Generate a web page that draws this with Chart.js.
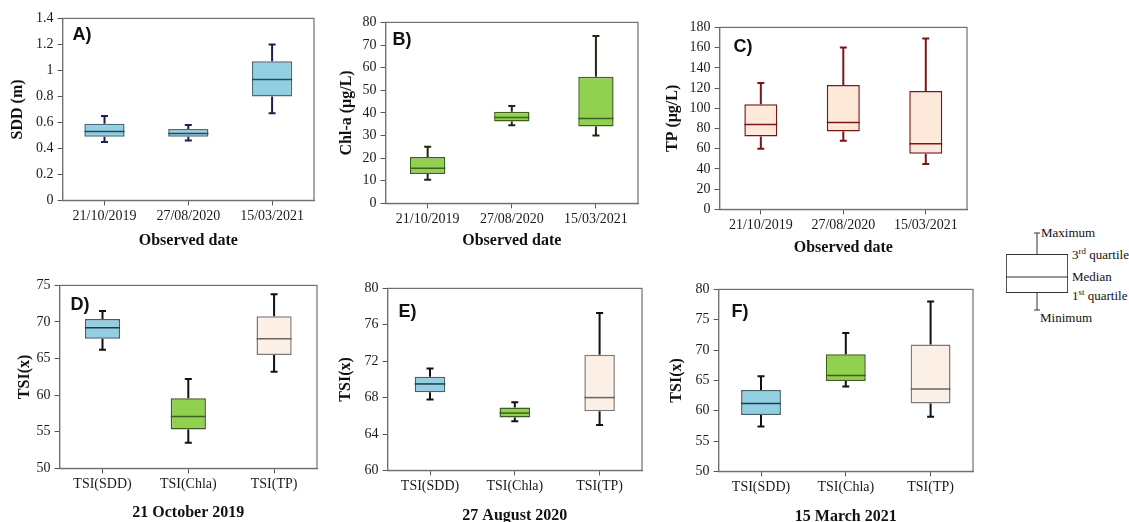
<!DOCTYPE html>
<html>
<head>
<meta charset="utf-8">
<script src="https://cdn.jsdelivr.net/npm/chart.js@4.4.1/dist/chart.umd.min.js"></script>
<style>
    body { margin: 0; background: #fff; width: 1129px; height: 522px; position: relative; overflow: hidden; font-family: 'Liberation Serif', serif; }
    canvas { position: absolute; }
    .lg { position: absolute; font-size: 13px; color: #111; white-space: nowrap; line-height: 14px; }
    .lg sup { font-size: 9px; line-height: 0; }
</style>
</head>
<body>
<div class="lg" style="left:1041px;top:226px;">Maximum</div>
<div class="lg" style="left:1072px;top:248px;">3<sup>rd</sup> quartile</div>
<div class="lg" style="left:1072px;top:270px;">Median</div>
<div class="lg" style="left:1072px;top:289px;">1<sup>st</sup> quartile</div>
<div class="lg" style="left:1040px;top:311px;">Minimum</div>
<script>
const dates = ['21/10/2019', '27/08/2020', '15/03/2021'];
const tsiNames = ['TSI(SDD)', 'TSI(Chla)', 'TSI(TP)'];

// each box: [min, q1, median, q3, max]
const sddStats = [[0.45, 0.49, 0.53, 0.59, 0.65], [0.46, 0.49, 0.515, 0.55, 0.58], [0.67, 0.80, 0.93, 1.07, 1.20]];
const chlaStats = [[10.5, 13, 15.5, 20.5, 25], [34.5, 36.2, 38, 40.5, 43], [30, 34, 37.5, 56, 74]];
const tpStats = [[60, 72, 84, 104, 125], [68, 77, 86, 123, 160], [45, 55, 65, 117, 169]];
const tsiOct2019 = [[66.2, 67.7, 69.2, 70.4, 71.5], [53.5, 55.3, 57.1, 59.6, 62.2], [63.2, 65.5, 67.7, 70.8, 73.8]];
const tsiAug2020 = [[67.8, 68.6, 69.5, 70.3, 71.2], [65.4, 65.8, 66.3, 66.9, 67.5], [65, 66.5, 68, 72.7, 77.3]];
const tsiMar2021 = [[57.4, 59.3, 61.2, 63.4, 65.7], [64, 64.9, 65.8, 69.3, 72.8], [59, 61.2, 63.6, 70.9, 78]];
const legendStats = [[10, 27, 43, 66, 87]];

const sddTicks = [0, 0.2, 0.4, 0.6, 0.8, 1, 1.2, 1.4];
const chlaTicks = [0, 10, 20, 30, 40, 50, 60, 70, 80];
const tpTicks = [0, 20, 40, 60, 80, 100, 120, 140, 160, 180];
const tsiTicksD = [50, 55, 60, 65, 70, 75];
const tsiTicksE = [60, 64, 68, 72, 76, 80];
const tsiTicksF = [50, 55, 60, 65, 70, 75, 80];

const blue = '#93cfe2', green = '#92d050', peach = '#fde9d9', peachPale = '#fcefe6';

// whiskers, caps and median lines on top of the floating bars
const boxPlugin = {
    id: 'boxExtras',
    afterDatasetsDraw(chart, args, opts) {
        const ctx = chart.ctx;
        const y = chart.scales.y;
        chart.getDatasetMeta(0).data.forEach((bar, i) => {
            const s = opts.stats[i];
            const x = bar.x, hw = bar.width / 2, cap = opts.cap / 2;
            ctx.save();
            ctx.strokeStyle = opts.whisker;
            ctx.lineWidth = opts.whiskerWidth;
            ctx.beginPath();
            ctx.moveTo(x, y.getPixelForValue(s[3]));
            ctx.lineTo(x, y.getPixelForValue(s[4]));
            ctx.moveTo(x, y.getPixelForValue(s[1]));
            ctx.lineTo(x, y.getPixelForValue(s[0]));
            ctx.moveTo(x - cap, y.getPixelForValue(s[4]));
            ctx.lineTo(x + cap, y.getPixelForValue(s[4]));
            ctx.moveTo(x - cap, y.getPixelForValue(s[0]));
            ctx.lineTo(x + cap, y.getPixelForValue(s[0]));
            ctx.stroke();
            ctx.strokeStyle = opts.medians[i];
            ctx.lineWidth = opts.medianWidth;
            ctx.beginPath();
            ctx.moveTo(x - hw, y.getPixelForValue(s[2]));
            ctx.lineTo(x + hw, y.getPixelForValue(s[2]));
            ctx.stroke();
            ctx.restore();
        });
    }
};

// plot frame and panel letter
const framePlugin = {
    id: 'frame',
    afterDraw(chart, args, opts) {
        if (!opts.show) return;
        const ctx = chart.ctx, a = chart.chartArea;
        ctx.save();
        ctx.strokeStyle = '#707070';
        ctx.lineWidth = 1.2;
        ctx.strokeRect(a.left, a.top, a.right - a.left, a.bottom - a.top);
        if (opts.panel) {
            ctx.fillStyle = '#111';
            ctx.font = 'bold 18px "Liberation Sans"';
            ctx.textBaseline = 'middle';
            ctx.fillText(opts.panel, a.left + opts.dx, a.top + opts.dy);
        }
        ctx.restore();
    }
};

function makeBoxChart(cfg) {
    const [l, t, r, b] = cfg.plot;
    const padTop = 12, padRight = 10;
    const yW = l - cfg.yTitleX + 9.6;
    const xH = cfg.xTitleY - b + 9.6;
    const canvas = document.createElement('canvas');
    canvas.width = Math.round(r - l + yW + padRight);
    canvas.height = Math.round(b - t + padTop + xH);
    canvas.style.left = (l - yW) + 'px';
    canvas.style.top = (t - padTop) + 'px';
    document.body.appendChild(canvas);

    const tickFont = { family: 'Liberation Serif', size: 14 };
    const titleFont = { family: 'Liberation Serif', size: 16, weight: 'bold', lineHeight: 1.2 };

    return new Chart(canvas.getContext('2d'), {
        type: 'bar',
        data: {
            labels: cfg.labels,
            datasets: [{
                data: cfg.stats.map(s => [s[1], s[3]]),
                backgroundColor: cfg.fills,
                borderColor: cfg.borders,
                borderWidth: 1.5,
                borderSkipped: false,
                barPercentage: cfg.barPct,
                categoryPercentage: 1
            }]
        },
        options: {
            responsive: false,
            animation: false,
            devicePixelRatio: 1,
            layout: { padding: { top: padTop, right: padRight, left: 0, bottom: 0 } },
            plugins: {
                legend: { display: false },
                tooltip: { enabled: false },
                boxExtras: {
                    stats: cfg.stats, whisker: cfg.whisker, whiskerWidth: 2, cap: 7,
                    medians: cfg.medians, medianWidth: 1.5
                },
                frame: { show: true, panel: cfg.panel, dx: cfg.panelOff[0], dy: cfg.panelOff[1] }
            },
            scales: {
                x: {
                    grid: { offset: false, drawOnChartArea: false, tickLength: 5, color: '#555' },
                    border: { color: '#606060', width: 1.2 },
                    ticks: { font: tickFont, color: '#1a1a1a', padding: 3, maxRotation: 0 },
                    title: { display: true, text: cfg.xTitle, font: titleFont, color: '#111', padding: 0 },
                    afterFit: axis => { axis.height = xH; }
                },
                y: {
                    min: cfg.ticks[0],
                    max: cfg.ticks[cfg.ticks.length - 1],
                    afterBuildTicks: axis => { axis.ticks = cfg.ticks.map(v => ({ value: v })); },
                    grid: { drawOnChartArea: false, tickLength: 5, color: '#555' },
                    border: { color: '#606060', width: 1.2 },
                    ticks: { font: tickFont, color: '#1a1a1a', padding: 4, callback: v => String(+v.toFixed(2)) },
                    title: { display: true, text: cfg.yTitle, font: titleFont, color: '#111', padding: 0 },
                    afterFit: axis => { axis.width = yW; }
                }
            }
        },
        plugins: [boxPlugin, framePlugin]
    });
}

makeBoxChart({
    plot: [63, 18, 314, 200], yTitleX: 18, xTitleY: 240,
    labels: dates, stats: sddStats, ticks: sddTicks,
    yTitle: 'SDD (m)', xTitle: 'Observed date',
    fills: blue, borders: '#4b6a78', medians: ['#27495a', '#27495a', '#27495a'],
    whisker: '#1b1f52', barPct: 0.48, panel: 'A)', panelOff: [10, 17]
});

makeBoxChart({
    plot: [386, 22, 638, 203], yTitleX: 347, xTitleY: 240,
    labels: dates, stats: chlaStats, ticks: chlaTicks,
    yTitle: 'Chl-a (μg/L)', xTitle: 'Observed date',
    fills: green, borders: '#3d6220', medians: ['#3d6220', '#3d6220', '#3d6220'],
    whisker: '#1d2a12', barPct: 0.42, panel: 'B)', panelOff: [7, 18]
});

makeBoxChart({
    plot: [720, 27, 967, 209], yTitleX: 673, xTitleY: 247,
    labels: dates, stats: tpStats, ticks: tpTicks,
    yTitle: 'TP (μg/L)', xTitle: 'Observed date',
    fills: peach, borders: '#7a1616', medians: ['#7a1616', '#7a1616', '#7a1616'],
    whisker: '#7a1616', barPct: 0.40, panel: 'C)', panelOff: [14, 20]
});

makeBoxChart({
    plot: [60, 285, 317, 468], yTitleX: 25, xTitleY: 512,
    labels: tsiNames, stats: tsiOct2019, ticks: tsiTicksD,
    yTitle: 'TSI(x)', xTitle: '21 October 2019',
    fills: [blue, green, peachPale], borders: ['#4b5e66', '#3d5a22', '#7a7a7a'],
    medians: ['#1f3a48', '#3d6220', '#666'],
    whisker: '#111', barPct: 0.41, panel: 'D)', panelOff: [11, 20]
});

makeBoxChart({
    plot: [388, 288, 642, 470], yTitleX: 346, xTitleY: 515,
    labels: tsiNames, stats: tsiAug2020, ticks: tsiTicksE,
    yTitle: 'TSI(x)', xTitle: '27 August 2020',
    fills: [blue, green, peachPale], borders: ['#4b5e66', '#3d5a22', '#7a7a7a'],
    medians: ['#1f3a48', '#3d6220', '#666'],
    whisker: '#111', barPct: 0.36, panel: 'E)', panelOff: [11, 24]
});

makeBoxChart({
    plot: [719, 289, 973, 471], yTitleX: 677, xTitleY: 516,
    labels: tsiNames, stats: tsiMar2021, ticks: tsiTicksF,
    yTitle: 'TSI(x)', xTitle: '15 March 2021',
    fills: [blue, green, peachPale], borders: ['#4b5e66', '#3d5a22', '#7a7a7a'],
    medians: ['#1f3a48', '#3d6220', '#666'],
    whisker: '#111', barPct: 0.47, panel: 'F)', panelOff: [13, 23]
});

// schematic key: one box on hidden axes
(function () {
    const canvas = document.createElement('canvas');
    canvas.width = 74;
    canvas.height = 95;
    canvas.style.left = '1000px';
    canvas.style.top = '225px';
    document.body.appendChild(canvas);
    new Chart(canvas.getContext('2d'), {
        type: 'bar',
        data: {
            labels: [''],
            datasets: [{
                data: legendStats.map(s => [s[1], s[3]]),
                backgroundColor: '#fff',
                borderColor: '#333',
                borderWidth: 1,
                borderSkipped: false,
                barPercentage: 0.84,
                categoryPercentage: 1
            }]
        },
        options: {
            responsive: false,
            animation: false,
            devicePixelRatio: 1,
            layout: { padding: 0 },
            plugins: {
                legend: { display: false },
                tooltip: { enabled: false },
                boxExtras: { stats: legendStats, whisker: '#333', whiskerWidth: 1, cap: 6, medians: ['#333'], medianWidth: 1 },
                frame: { show: false }
            },
            scales: {
                x: { display: false },
                y: { display: false, min: 0, max: 95 }
            }
        },
        plugins: [boxPlugin, framePlugin]
    });
})();
</script>
</body>
</html>
